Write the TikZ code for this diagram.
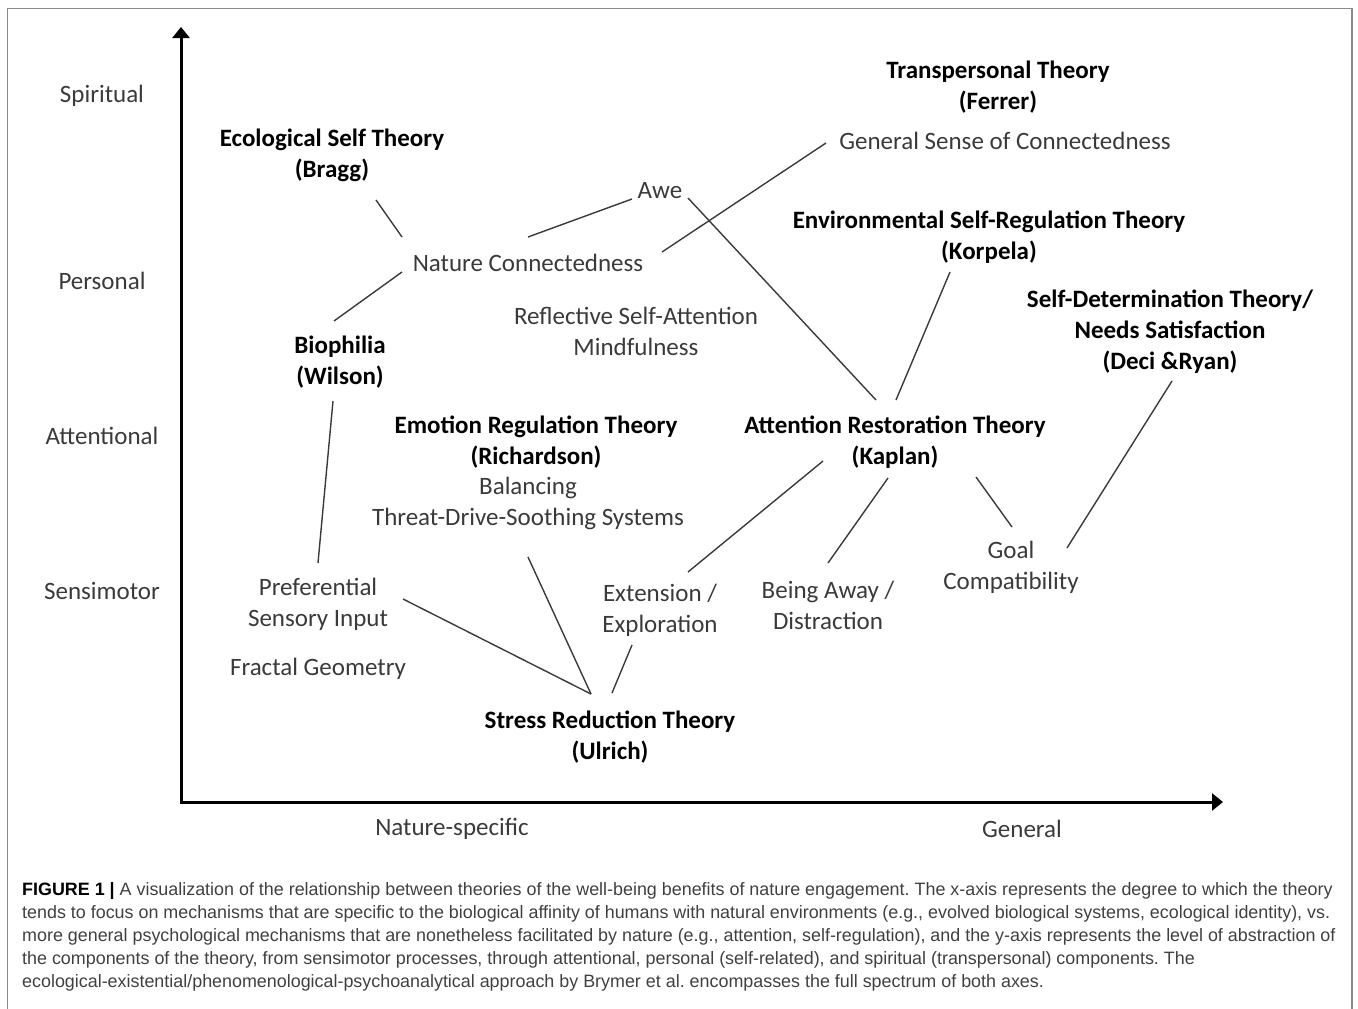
\documentclass[tikz,border=0pt]{standalone}
\usepackage{fontspec}
\setmainfont{Carlito}
\newfontfamily\capfont{Liberation Sans}
\usetikzlibrary{arrows.meta}
\definecolor{txtgray}{HTML}{3A3A3A}
\definecolor{linegray}{HTML}{3A3A3A}
\definecolor{framegray}{HTML}{8A8A8A}
\definecolor{capgray}{HTML}{404040}
\frenchspacing

\begin{document}
\begin{tikzpicture}[
    x=1pt, y=-1pt,
    every node/.style={inner sep=0pt},
    level/.style={txtgray, font=\fontsize{25}{31}\selectfont},
    theory/.style={black, font=\fontsize{25}{31}\selectfont\bfseries, align=center},
    mech/.style={txtgray, font=\fontsize{25}{31}\selectfont, align=center},
    link/.style={linegray, line width=1.4pt},
    axisline/.style={black, line width=3pt,
                     {Triangle[length=11pt,width=17pt]}-{Triangle[length=11pt,width=17pt]}}
]
\useasboundingbox (0,0) rectangle (1358,1009);

% ---------- frame (open at the bottom) ----------
\draw[framegray, line width=1.5pt] (7.5,1009) -- (7.5,8.5) -- (1352,8.5) -- (1352,1009);

% ---------- axes ----------
\coordinate (ytop) at (181,27);
\coordinate (origin) at (181,802);
\coordinate (xend) at (1223,802);
\draw[axisline] (ytop) -- (origin) -- (xend);

% ---------- axis levels ----------
\node[level] (spiritual)   at (102,96)  {Spiritual};
\node[level] (personal)    at (102,281) {Personal};
\node[level] (attentional) at (102,436) {Attentional};
\node[level] (sensimotor)  at (102,591) {Sensimotor};
\node[level] (natspec)     at (452,829) {Nature-specific};
\node[level] (general)     at (1022,829) {General};

% ---------- theories ----------
\node[theory] (bragg)      at (332,155.5) {Ecological Self Theory\\(Bragg)};
\node[theory] (ferrer)     at (998,87.5)  {Transpersonal Theory\\(Ferrer)};
\node[theory] (korpela)    at (989,237)   {Environmental Self-Regulation Theory\\(Korpela)};
\node[theory] (deci)       at (1170,332)  {Self-Determination Theory/\\Needs Satisfaction\\(Deci \&Ryan)};
\node[theory] (wilson)     at (340,362.5) {Biophilia\\(Wilson)};
\node[theory] (richardson) at (536,442)   {Emotion Regulation Theory\\(Richardson)};
\node[theory] (kaplan)     at (895,442)   {Attention Restoration Theory\\(Kaplan)};
\node[theory] (ulrich)     at (610,737.5) {Stress Reduction Theory\\(Ulrich)};

% ---------- mechanisms ----------
\node[mech] (nature)    at (528,263)   {Nature Connectedness};
\node[mech] (awe)       at (660,191)   {Awe};
\node[mech] (gensense)  at (1005,140.5) {General Sense of Connectedness};
\node[mech] (reflect)   at (636,331)   {Reflective Self-Attention\\Mindfulness};
\node[mech] (balance)   at (528,503)   {Balancing\\Threat-Drive-Soothing Systems};
\node[mech] (pref)      at (318,604.5) {Preferential\\Sensory Input};
\node[mech] (fractal)   at (318,669)   {Fractal Geometry};
\node[mech] (extension) at (660,610.5) {Extension /\\Exploration};
\node[mech] (away)      at (828,605)   {Being Away /\\Distraction};
\node[mech] (goal)      at (1011,567.5) {Goal\\Compatibility};

% ---------- links ----------
\draw[link] ([shift={(44,44.5)}]bragg.center)   -- ([shift={(-126,-26)}]nature.center);
\draw[link] ([shift={(-126,9)}]nature.center)   -- ([shift={(-6,-41.5)}]wilson.center);
\draw[link] ([shift={(0,-26)}]nature.center)    -- ([shift={(-28,8)}]awe.center);
\draw[link] ([shift={(134,-11)}]nature.center)  -- ([shift={(-179,2.5)}]gensense.center);
\draw[link] ([shift={(28,7)}]awe.center)        -- ([shift={(-19,-42)}]kaplan.center);
\draw[link] ([shift={(-39,35)}]korpela.center)  -- ([shift={(1,-42)}]kaplan.center);
\draw[link] ([shift={(2,49)}]deci.center)       -- ([shift={(56,-19.5)}]goal.center);
\draw[link] ([shift={(-72,19)}]kaplan.center)   -- ([shift={(28,-38.5)}]extension.center);
\draw[link] ([shift={(-7,36)}]kaplan.center)    -- ([shift={(0,-42)}]away.center);
\draw[link] ([shift={(81,35)}]kaplan.center)    -- ([shift={(1,-40.5)}]goal.center);
\draw[link] ([shift={(-7,38.5)}]wilson.center)  -- ([shift={(0,-41.5)}]pref.center);
\draw[link] ([shift={(85,-5.5)}]pref.center)    -- ([shift={(-19,-43.5)}]ulrich.center);
\draw[link] ([shift={(0,54)}]balance.center)    -- ([shift={(-19,-43.5)}]ulrich.center);
\draw[link] ([shift={(-28,34.5)}]extension.center) -- ([shift={(2,-44.5)}]ulrich.center);

% ---------- caption ----------
\node[capgray, anchor=north west, align=left, font=\capfont\fontsize{17.9}{23}\selectfont] (caption) at (22,882)
  {{\color{black}\bfseries FIGURE 1 |} A visualization of the relationship between theories of the well-being benefits of nature engagement. The x-axis represents the degree to which the theory\\
   tends to focus on mechanisms that are specific to the biological affinity of humans with natural environments (e.g., evolved biological systems, ecological identity), vs.\\
   more general psychological mechanisms that are nonetheless facilitated by nature (e.g., attention, self-regulation), and the y-axis represents the level of abstraction of\\
   the components of the theory, from sensimotor processes, through attentional, personal (self-related), and spiritual (transpersonal) components. The\\
   ecological-existential/phenomenological-psychoanalytical approach by Brymer et al. encompasses the full spectrum of both axes.};

\end{tikzpicture}
\end{document}
